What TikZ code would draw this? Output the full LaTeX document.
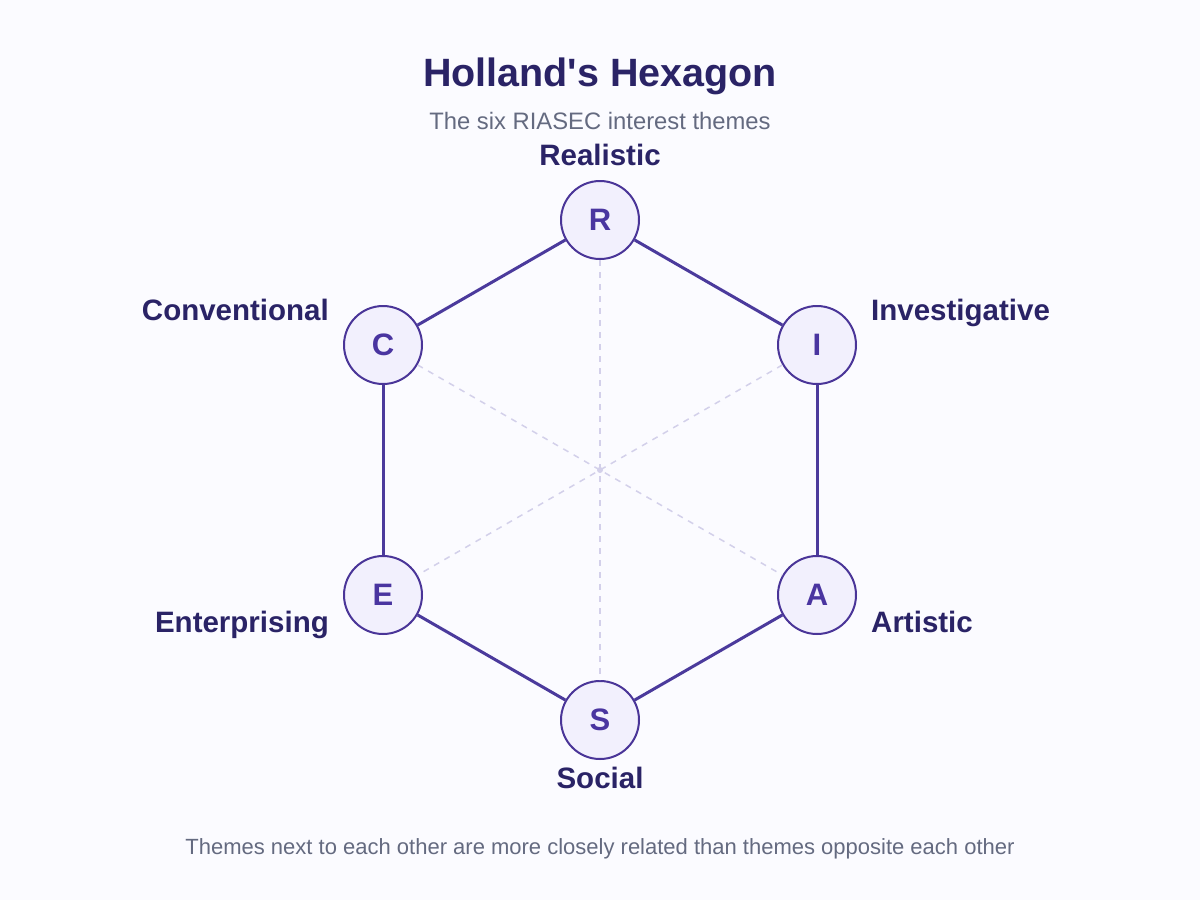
\documentclass[tikz,border=0pt]{standalone}
\usepackage{fontspec}
\setmainfont{Liberation Sans}
\definecolor{bgc}{HTML}{FBFBFF}
\definecolor{titlec}{HTML}{2A2366}
\definecolor{subc}{HTML}{646A80}
\definecolor{edgec}{HTML}{4B3A9C}
\definecolor{ringc}{HTML}{4A3598}
\definecolor{fillc}{HTML}{F2F0FD}
\definecolor{letterc}{HTML}{4A35A0}
\definecolor{dashc}{HTML}{D3D0EA}
\begin{document}
\begin{tikzpicture}[x=1pt,y=-1pt,
  theme/.style={circle,draw=ringc,line width=2pt,fill=fillc,minimum size=78pt,inner sep=0pt,
    text=letterc,font=\fontsize{31}{31}\selectfont\bfseries},
  lbl/.style={text=titlec,font=\fontsize{29.5}{30}\selectfont\bfseries,inner sep=0pt},
  hexedge/.style={draw=edgec,line width=3pt},
  oppo/.style={draw=dashc,line width=1.5pt,dash pattern=on 6pt off 6pt}]
\fill[bgc] (0,0) rectangle (1200,900);
\useasboundingbox (0,0) rectangle (1200,900);
\node[text=titlec,font=\fontsize{39.5}{40}\selectfont\bfseries,anchor=base,inner sep=0pt] (title) at (600,86) {Holland\textquotesingle s Hexagon};
\node[text=subc,font=\fontsize{23.8}{24}\selectfont,anchor=base,inner sep=0pt] (sub) at (600,129) {The six RIASEC interest themes};
\coordinate (ctr) at (600,470);
\node[theme] (R) at (600,220) {R};
\node[theme] (I) at (817,345) {I};
\node[theme] (A) at (817,595) {A};
\node[theme] (S) at (600,720) {S};
\node[theme] (E) at (383,595) {E};
\node[theme] (C) at (383,345) {C};
\draw[oppo] (R) -- (S);
\draw[oppo] (C) -- (A);
\draw[oppo] (I) -- (E);
\fill[dashc] (ctr) circle (3pt);
\draw[hexedge] (R) -- (I);
\draw[hexedge] (I) -- (A);
\draw[hexedge] (A) -- (S);
\draw[hexedge] (S) -- (E);
\draw[hexedge] (E) -- (C);
\draw[hexedge] (C) -- (R);
\node[lbl,anchor=base] (lR) at (600,165) {Realistic};
\node[lbl,anchor=base east] (lC) at (329,320) {Conventional};
\node[lbl,anchor=base west] (lI) at (871,320) {Investigative};
\node[lbl,anchor=base east] (lE) at (329,632) {Enterprising};
\node[lbl,anchor=base west] (lA) at (871,632) {Artistic};
\node[lbl,anchor=base] (lS) at (600,788) {Social};
\node[text=subc,font=\fontsize{22}{22}\selectfont,anchor=base,inner sep=0pt] (foot) at (600,854) {Themes next to each other are more closely related than themes opposite each other};
\end{tikzpicture}
\end{document}
